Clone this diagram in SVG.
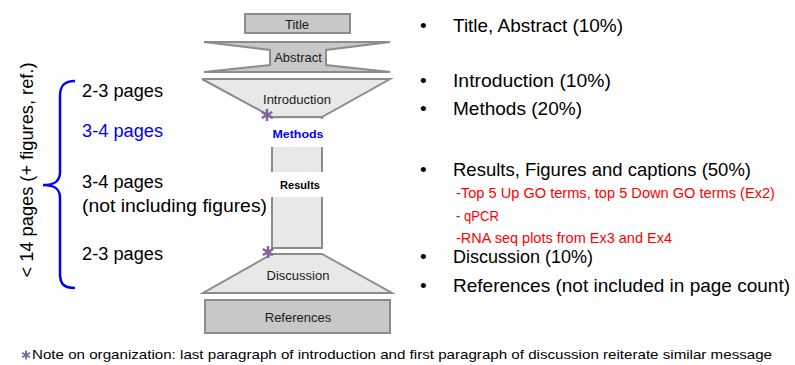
<svg xmlns="http://www.w3.org/2000/svg" width="795" height="365" viewBox="0 0 795 365">
<style>
.dark{fill:#c8c8c8;stroke:#8c8c8c;stroke-width:2}
.light{fill:#e8e8e8;stroke:#8c8c8c;stroke-width:2}
.lbl{font-family:"Liberation Sans",Arial,sans-serif;font-size:13px;fill:#1a1a1a;text-anchor:middle}
.blbl{font-family:"Liberation Sans",Arial,sans-serif;font-size:11px;font-weight:bold;text-anchor:middle}
.left{font-family:"Liberation Sans",Arial,sans-serif;font-size:18px;fill:#000}
.blue{fill:#0000ff}
.right{font-family:"Liberation Sans",Arial,sans-serif;font-size:19px;fill:#000}
.red{font-family:"Liberation Sans",Arial,sans-serif;font-size:14px;fill:#ff0000}
.note{font-family:"Liberation Sans",Arial,sans-serif;font-size:13px;fill:#000}
.ast{stroke:#8064a2;stroke-width:2.5;fill:none}
</style>
<defs>
<path id="astp" d="M0,-6 L0,6 M-5.2,-3 L5.2,3 M-5.2,3 L5.2,-3"/>
</defs>
<rect width="795" height="365" fill="#ffffff"/>

<g id="title">
<rect class="dark" x="245" y="14" width="105" height="19"/>
<text class="lbl" x="297" y="29">Title</text>
</g>
<g id="abstract">
<polygon class="dark" points="204,42 390,42 326,50 326,65 390,72 204,72 270,65 270,50"/>
<text class="lbl" x="298" y="62">Abstract</text>
</g>
<g id="introduction">
<polygon class="light" points="202,79 390,79 322,117 272,117"/>
<text class="lbl" x="297" y="104">Introduction</text>
</g>
<g id="column">
<rect class="light" x="272" y="117" width="50" height="131"/>
</g>
<g id="methods">
<rect x="262" y="119" width="72" height="28" fill="#ffffff"/>
<text class="blbl" x="298" y="138" fill="#0000ff" textLength="51" lengthAdjust="spacingAndGlyphs">Methods</text>
</g>
<g id="results">
<rect x="268" y="172" width="64" height="25" fill="#ffffff"/>
<text class="blbl" x="300" y="189" fill="#000000" textLength="40" lengthAdjust="spacingAndGlyphs">Results</text>
</g>
<g id="discussion">
<polygon class="light" points="272,254 322,254 392,293 203,293"/>
<text class="lbl" x="298" y="280">Discussion</text>
</g>
<g id="references">
<rect class="dark" x="205" y="300" width="185" height="33"/>
<text class="lbl" x="298" y="322">References</text>
</g>
<g id="asterisks">
<use href="#astp" class="ast" transform="translate(267,115)"/>
<use href="#astp" class="ast" transform="translate(268,252)"/>
</g>

<g id="connectors">
<path d="M75,81 C64,81 60,86 60,96 L60,172 C60,181 55,185 43,185 C55,185 60,189 60,198 L60,274 C60,284 64,288 75,288" fill="none" stroke="#0000ff" stroke-width="2.5"/>
</g>

<g id="left-labels">
<text class="left" transform="translate(33,170) rotate(-90)" text-anchor="middle" textLength="215" lengthAdjust="spacingAndGlyphs">&lt; 14 pages (+ figures, ref.)</text>
<text class="left" x="82" y="97" textLength="81" lengthAdjust="spacingAndGlyphs">2-3 pages</text>
<text class="left blue" x="82" y="137" textLength="81" lengthAdjust="spacingAndGlyphs">3-4 pages</text>
<text class="left" x="82" y="188" textLength="81" lengthAdjust="spacingAndGlyphs">3-4 pages</text>
<text class="left" x="82" y="212" textLength="185" lengthAdjust="spacingAndGlyphs">(not including figures)</text>
<text class="left" x="82" y="260" textLength="81" lengthAdjust="spacingAndGlyphs">2-3 pages</text>
</g>

<g id="right-list">
<text class="right" x="420" y="32">•</text>
<text class="right" x="453" y="32" textLength="170" lengthAdjust="spacingAndGlyphs">Title, Abstract (10%)</text>
<text class="right" x="420" y="87">•</text>
<text class="right" x="453" y="87" textLength="158" lengthAdjust="spacingAndGlyphs">Introduction (10%)</text>
<text class="right" x="420" y="115">•</text>
<text class="right" x="453" y="115" textLength="129" lengthAdjust="spacingAndGlyphs">Methods (20%)</text>
<text class="right" x="420" y="176">•</text>
<text class="right" x="453" y="176" textLength="298" lengthAdjust="spacingAndGlyphs">Results, Figures and captions (50%)</text>
<text class="red" x="456" y="198" textLength="319" lengthAdjust="spacingAndGlyphs">-Top 5 Up GO terms, top 5 Down GO terms (Ex2)</text>
<text class="red" x="456" y="221" textLength="43" lengthAdjust="spacingAndGlyphs">- qPCR</text>
<text class="red" x="456" y="243" textLength="216" lengthAdjust="spacingAndGlyphs">-RNA seq plots from Ex3 and Ex4</text>
<text class="right" x="420" y="263">•</text>
<text class="right" x="453" y="263" textLength="140" lengthAdjust="spacingAndGlyphs">Discussion (10%)</text>
<text class="right" x="420" y="292">•</text>
<text class="right" x="453" y="292" textLength="337" lengthAdjust="spacingAndGlyphs">References (not included in page count)</text>
</g>

<g id="footnote">
<use href="#astp" class="ast" transform="translate(26,355) scale(0.75)"/>
<text class="note" x="32" y="359" textLength="740" lengthAdjust="spacingAndGlyphs">Note on organization: last paragraph of introduction and first paragraph of discussion reiterate similar message</text>
</g>
</svg>
